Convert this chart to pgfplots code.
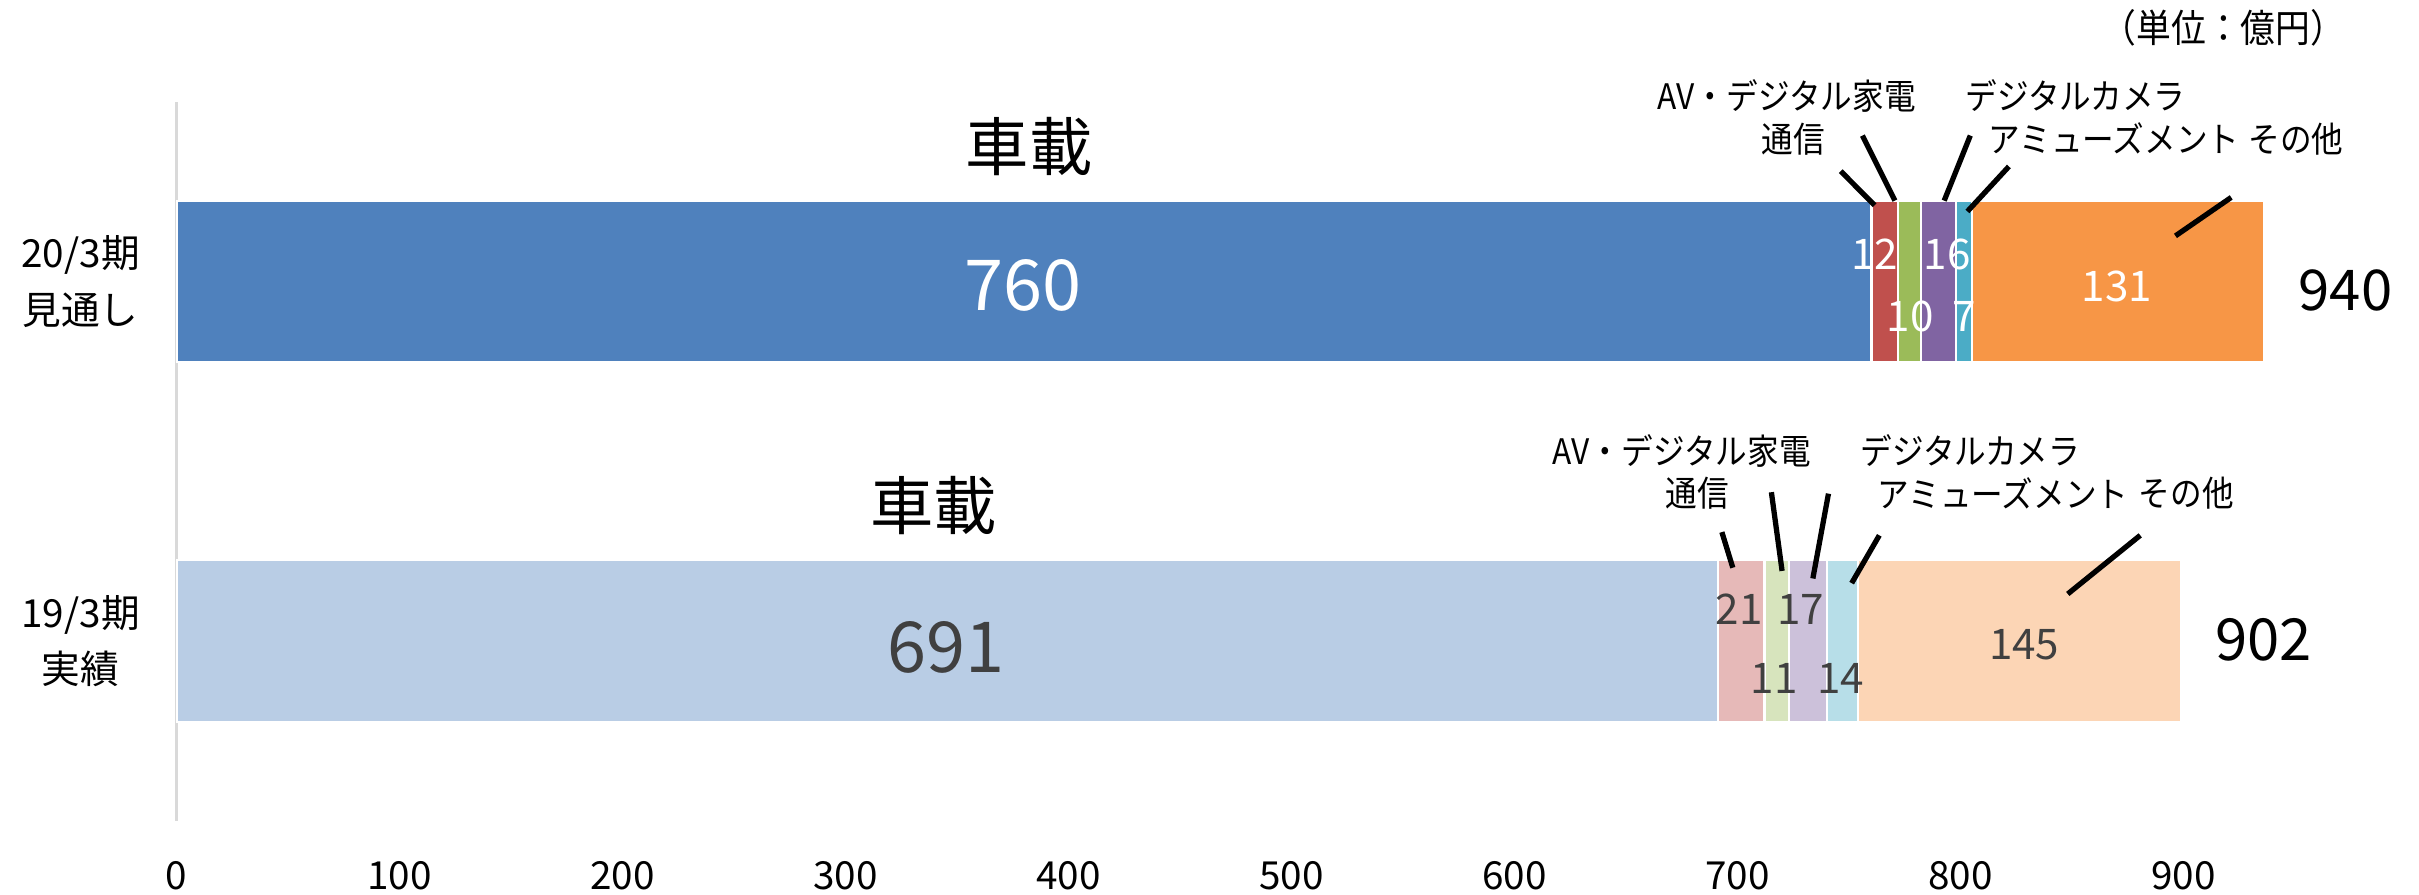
\documentclass[border=0pt]{standalone}
\usepackage{pgfplots}
\pgfplotsset{compat=1.18}
\usepackage{fontspec}
\setmainfont{Noto Sans CJK JP}
\newfontfamily\narrow{Noto Sans CJK JP}[FakeStretch=0.9]
\definecolor{a1}{HTML}{4F81BD}
\definecolor{a2}{HTML}{C0504D}
\definecolor{a3}{HTML}{9BBB59}
\definecolor{a4}{HTML}{8064A2}
\definecolor{a5}{HTML}{4BACC6}
\definecolor{a6}{HTML}{F79646}
\definecolor{b1}{HTML}{B9CDE5}
\definecolor{b2}{HTML}{E6B9B8}
\definecolor{b3}{HTML}{D7E4BD}
\definecolor{b4}{HTML}{CCC1DA}
\definecolor{b5}{HTML}{B7DEE8}
\definecolor{b6}{HTML}{FCD5B5}
\definecolor{dg}{HTML}{404040}
\tikzset{lead/.style={line width=1.5pt}}
\newcommand\annot{%
% unit
\node[font=\narrow\fontsize{11}{12}\selectfont] at (axis cs:917.8,1.706) {（単位：億円）};
% top bar texts
\node[font=\fontsize{18}{18}\selectfont] at (axis cs:382.3,1.376) {車載};
\node[font=\fontsize{20}{20}\selectfont, text=white] at (axis cs:379.5,0.989) {760};
\node[font=\fontsize{16}{16}\selectfont] at (axis cs:972.5,0.976) {940};
\node[font=\fontsize{12}{12}\selectfont, text=white] at (axis cs:761.4,1.075) {12};
\node[font=\fontsize{12}{12}\selectfont, text=white] at (axis cs:777.3,0.903) {10};
\node[font=\fontsize{12}{12}\selectfont, text=white] at (axis cs:794.0,1.075) {16};
\node[font=\fontsize{12}{12}\selectfont, text=white] at (axis cs:801.5,0.903) {7};
\node[font=\fontsize{12}{12}\selectfont, text=white] at (axis cs:870.0,0.985) {131};
\node[font=\narrow\fontsize{10}{12}\selectfont] at (axis cs:722.0,1.517) {AV・デジタル家電};
\node[font=\narrow\fontsize{10}{12}\selectfont] at (axis cs:724.8,1.397) {通信};
\node[font=\narrow\fontsize{10}{12}\selectfont] at (axis cs:851.4,1.517) {デジタルカメラ};
\node[font=\narrow\fontsize{10}{12}\selectfont] at (axis cs:868.7,1.397) {アミューズメント};
\node[font=\narrow\fontsize{10}{12}\selectfont] at (axis cs:950.3,1.397) {その他};
\draw[lead] (axis cs:746.2,1.307) -- (axis cs:761.4,1.212);
\draw[lead] (axis cs:755.9,1.406) -- (axis cs:770.5,1.225);
\draw[lead] (axis cs:804.3,1.406) -- (axis cs:792.6,1.225);
\draw[lead] (axis cs:821.6,1.320) -- (axis cs:803.0,1.195);
\draw[lead] (axis cs:921.3,1.234) -- (axis cs:896.3,1.127);
% bottom bar texts
\node[font=\fontsize{18}{18}\selectfont] at (axis cs:339.4,0.376) {車載};
\node[font=\fontsize{20}{20}\selectfont, text=dg] at (axis cs:345.0,-0.019) {691};
\node[font=\fontsize{16.5}{16.5}\selectfont] at (axis cs:935.7,0.002) {902};
\node[font=\fontsize{12}{12}\selectfont, text=dg] at (axis cs:700.6,0.088) {21};
\node[font=\fontsize{12}{12}\selectfont, text=dg] at (axis cs:716.4,-0.105) {11};
\node[font=\fontsize{12}{12}\selectfont, text=dg] at (axis cs:728.3,0.088) {17};
\node[font=\fontsize{12}{12}\selectfont, text=dg] at (axis cs:746.2,-0.105) {14};
\node[font=\fontsize{12}{12}\selectfont, text=dg] at (axis cs:828.5,-0.011) {145};
\node[font=\narrow\fontsize{10}{12}\selectfont] at (axis cs:674.9,0.530) {AV・デジタル家電};
\node[font=\narrow\fontsize{10}{12}\selectfont] at (axis cs:681.9,0.410) {通信};
\node[font=\narrow\fontsize{10}{12}\selectfont] at (axis cs:804.3,0.530) {デジタルカメラ};
\node[font=\narrow\fontsize{10}{12}\selectfont] at (axis cs:818.9,0.410) {アミューズメント};
\node[font=\narrow\fontsize{10}{12}\selectfont] at (axis cs:901.2,0.410) {その他};
\draw[lead] (axis cs:692.9,0.303) -- (axis cs:697.8,0.204);
\draw[lead] (axis cs:715.1,0.414) -- (axis cs:719.9,0.195);
\draw[lead] (axis cs:740.7,0.410) -- (axis cs:733.7,0.174);
\draw[lead] (axis cs:763.5,0.294) -- (axis cs:751.1,0.161);
\draw[lead] (axis cs:880.5,0.294) -- (axis cs:848.0,0.131);
}
\begin{document}
\begin{tikzpicture}
\path[use as bounding box] (0,0) rectangle (24.19cm,8.948cm);
\begin{axis}[
  at={(1.767cm,0.740cm)}, anchor=south west,
  scale only axis, width=22.30cm, height=7.19cm,
  xbar stacked, bar width=0.45,
  xmin=0, xmax=1000, ymin=-0.5, ymax=1.5,
  enlargelimits=false,
  axis y line*=left, axis x line*=bottom,
  x axis line style={draw=none},
  y axis line style={draw=black!15, line width=1pt},
  xtick={0,100,...,900},
  ytick={0,1},
  yticklabels={{19/3期\\実績},{20/3期\\見通し}},
  yticklabel style={align=center, font=\fontsize{11}{16}\selectfont, xshift=-7pt},
  xticklabel style={font=\fontsize{11}{13}\selectfont, yshift=-8pt},
  tick style={draw=none},
  /pgf/number format/assume math mode=true,
  clip=false,
  every axis plot/.append style={draw=white, line width=0.6pt},
  after end axis/.code={\annot},
]
% 20/3期 見通し (y=1)
\addplot[fill=a1] coordinates {(760,1) (0,0)};
\addplot[fill=a2] coordinates {(12,1) (0,0)};
\addplot[fill=a3] coordinates {(10,1) (0,0)};
\addplot[fill=a4] coordinates {(16,1) (0,0)};
\addplot[fill=a5] coordinates {(7,1) (0,0)};
\addplot[fill=a6] coordinates {(131,1) (0,0)};
% 19/3期 実績 (y=0)
\addplot[fill=b1] coordinates {(0,1) (691,0)};
\addplot[fill=b2] coordinates {(0,1) (21,0)};
\addplot[fill=b3] coordinates {(0,1) (11,0)};
\addplot[fill=b4] coordinates {(0,1) (17,0)};
\addplot[fill=b5] coordinates {(0,1) (14,0)};
\addplot[fill=b6] coordinates {(0,1) (145,0)};
\end{axis}
\end{tikzpicture}
\end{document}
